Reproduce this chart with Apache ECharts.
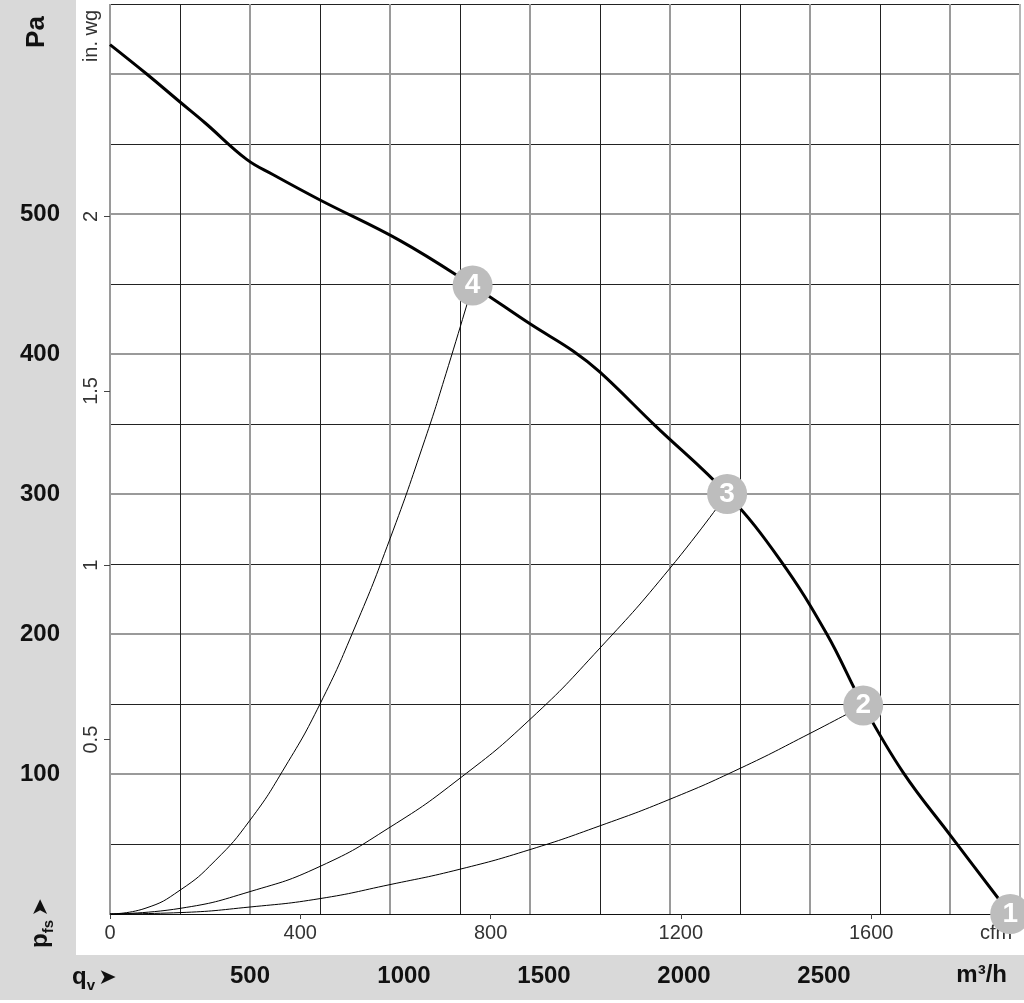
<!DOCTYPE html>
<html>
<head>
<meta charset="utf-8">
<script src="https://cdn.jsdelivr.net/npm/echarts/dist/echarts.min.js"></script>
<style>html,body{margin:0;padding:0;background:#fff}#c{width:1024px;height:1003px}</style>
</head>
<body>
<div id="c"></div>
<script>
// ---- data ----
// main fan curve: [flow m3/h, static pressure Pa]
const mainCurve = [[0,621],[131,600],[250,580],[340,565],[488,539],[583,528],[750,510],[1036,481],[1295,449],[1504,421],[1655,402],[1750,387],[1946,349],[2204,300],[2393,253],[2560,200],[2690,149],[2833,101],[3002,56],[3215,0]];
// system resistance curves
const system4 = [[0,0],[125,4],[250,17],[375,38],[500,67],[625,105],[750,150],[875,205],[1000,268],[1125,339],[1200,386],[1295,449]];
const system3 = [[0,0],[250,4],[500,16],[750,34],[1000,62],[1250,97],[1500,139],[1750,190],[2000,247],[2204,300]];
const system2 = [[0,0],[250,1],[500,5],[750,11],[1000,21],[1250,32],[1500,46],[1750,63],[2000,82],[2250,104],[2500,129],[2690,149]];
// operating points
const opPoints = [[3215,0,'1'],[2690,149,'2'],[2204,300,'3'],[1295,449,'4']];
// tick labels
const paTicks = [100,200,300,400,500];
const inwgTicks = [0.5,1,1.5,2];
const cfmTicks = [0,400,800,1200,1600];
const m3hTicks = [500,1000,1500,2000,2500];
const M3H_MAX = 3250, PA_MAX = 650;
const CFM_PER_M3H = 1/1.69901, PA_PER_INWG = 249.089;

const FF = "'Liberation Sans', Arial, Helvetica, sans-serif";
const chart = echarts.init(document.getElementById('c'), null, {renderer:'canvas'});

function minorColors(n){ const a=[]; for(let i=0;i<n;i++) a.push(i%2? '#222':'transparent'); return a; }
function majorColors(n, lastCol, firstCol){ const a=[]; for(let i=0;i<n;i++) a.push('#9a9a9a'); a[n-1]=lastCol; if(firstCol) a[0]=firstCol; return a; }

const option = {
  animation:false,
  backgroundColor:'#fff',
  grid:{left:110, top:4, width:910, height:910, show:false},
  xAxis:[
    {type:'value', min:0, max:M3H_MAX, interval:250, position:'bottom',
     axisLine:{show:false}, axisTick:{show:false},
     axisLabel:{customValues:m3hTicks, margin:50,
       formatter:v=> v===m3hTicks[0] ? '{a|'+v+'}' : '{b|'+v+'}',
       rich:{a:{fontSize:24,fontWeight:'bold',color:'#111',fontFamily:FF},
             b:{fontSize:24,fontWeight:'bold',color:'#111',fontFamily:FF,padding:[0,0,0,28]}}},
     splitLine:{show:true, lineStyle:{color:minorColors(14), width:1}}},
    {type:'value', min:0, max:M3H_MAX*CFM_PER_M3H, interval:400, position:'bottom',
     axisLine:{show:true, lineStyle:{color:'#111', width:1}},
     axisTick:{show:true, customValues:cfmTicks, length:5, lineStyle:{color:'#444'}},
     axisLabel:{customValues:cfmTicks, margin:9, fontSize:20, color:'#333', fontFamily:FF, formatter:v=>String(v)},
     splitLine:{show:false}},
    {type:'value', min:0, max:M3H_MAX, interval:500, position:'bottom',
     axisLine:{show:false}, axisTick:{show:false}, axisLabel:{show:false},
     splitLine:{show:true, lineStyle:{color:majorColors(8,'#b5b5b5'), width:2}}}
  ],
  yAxis:[
    {type:'value', min:0, max:PA_MAX, interval:50, position:'left',
     axisLine:{show:false}, axisTick:{show:false},
     axisLabel:{customValues:paTicks, margin:70, align:'center', fontSize:24, fontWeight:'bold', color:'#111', fontFamily:FF},
     splitLine:{show:true, lineStyle:{color:minorColors(14), width:1}}},
    {type:'value', min:0, max:PA_MAX/PA_PER_INWG, interval:0.5, position:'left',
     axisLine:{show:false},
     axisTick:{show:true, customValues:inwgTicks, length:6, lineStyle:{color:'#444'}},
     axisLabel:{customValues:inwgTicks, rotate:90, margin:9, fontSize:20, color:'#333', fontFamily:FF,
       align:'center', verticalAlign:'bottom', formatter:v=>String(v)},
     splitLine:{show:false}},
    {type:'value', min:0, max:PA_MAX, interval:100, position:'left',
     axisLine:{show:false}, axisTick:{show:false}, axisLabel:{show:false},
     splitLine:{show:true, lineStyle:{color:majorColors(8,'transparent','transparent'), width:2}}}
  ],
  series:[
    {type:'line', data:system4, xAxisIndex:0, yAxisIndex:0, smooth:0.5, symbol:'none', z:3, lineStyle:{color:'#000', width:1}},
    {type:'line', data:system3, xAxisIndex:0, yAxisIndex:0, smooth:0.5, symbol:'none', z:3, lineStyle:{color:'#000', width:1}},
    {type:'line', data:system2, xAxisIndex:0, yAxisIndex:0, smooth:0.5, symbol:'none', z:3, lineStyle:{color:'#000', width:1}},
    {type:'line', data:mainCurve, xAxisIndex:0, yAxisIndex:0, smooth:0.4, symbol:'none', z:5, lineStyle:{color:'#000', width:3}},
    {type:'scatter', data:opPoints, xAxisIndex:0, yAxisIndex:0, symbol:'circle', symbolSize:40, clip:false, z:10,
     itemStyle:{color:'#bdbdbd', opacity:1},
     emphasis:{disabled:true},
     labelLayout:{hideOverlap:false},
     label:{show:true, position:'inside', formatter:p=>p.data[2], color:'#fff', fontSize:28, fontWeight:'bold', fontFamily:FF}}
  ],
  graphic:[
    {type:'rect', z:-10, shape:{x:0,y:0,width:76,height:1000}, style:{fill:'#d9d9d9'}},
    {type:'rect', z:-10, shape:{x:0,y:955,width:1024,height:45}, style:{fill:'#d9d9d9'}},
    {type:'text', x:37, y:32, rotation:Math.PI/2, style:{text:'Pa', font:'bold 26px '+FF, fill:'#111', align:'center', verticalAlign:'middle'}},
    {type:'text', x:91, y:36, rotation:Math.PI/2, style:{text:'in. wg', font:'20px '+FF, fill:'#333', align:'center', verticalAlign:'middle'}},
    {type:'text', x:40, y:923, rotation:Math.PI/2, style:{text:'{p|p}{s|fs} {a|➤}', align:'center', verticalAlign:'middle',
      rich:{p:{fontSize:24, fontWeight:'bold', fontFamily:FF, fill:'#111', verticalAlign:'bottom'},
            s:{fontSize:15, fontWeight:'bold', fontFamily:FF, fill:'#111', verticalAlign:'bottom', padding:[0,0,-4,0]},
            a:{fontSize:22, fontFamily:"'DejaVu Sans', sans-serif", fill:'#111', verticalAlign:'bottom'}}}},
    {type:'text', x:72, y:977, style:{text:'{q|q}{s|v} {a|➤}', align:'left', verticalAlign:'middle',
      rich:{q:{fontSize:24, fontWeight:'bold', fontFamily:FF, fill:'#111', verticalAlign:'bottom'},
            s:{fontSize:15, fontWeight:'bold', fontFamily:FF, fill:'#111', verticalAlign:'bottom', padding:[0,0,-4,0]},
            a:{fontSize:22, fontFamily:"'DejaVu Sans', sans-serif", fill:'#111', verticalAlign:'bottom'}}}},
    {type:'text', x:996, y:933, style:{text:'cfm', font:'20px '+FF, fill:'#333', align:'center', verticalAlign:'middle'}},
    {type:'text', x:1007, y:975, style:{text:'m³/h', font:'bold 24px '+FF, fill:'#111', align:'right', verticalAlign:'middle'}}
  ]
};
chart.setOption(option);
</script>
</body>
</html>
